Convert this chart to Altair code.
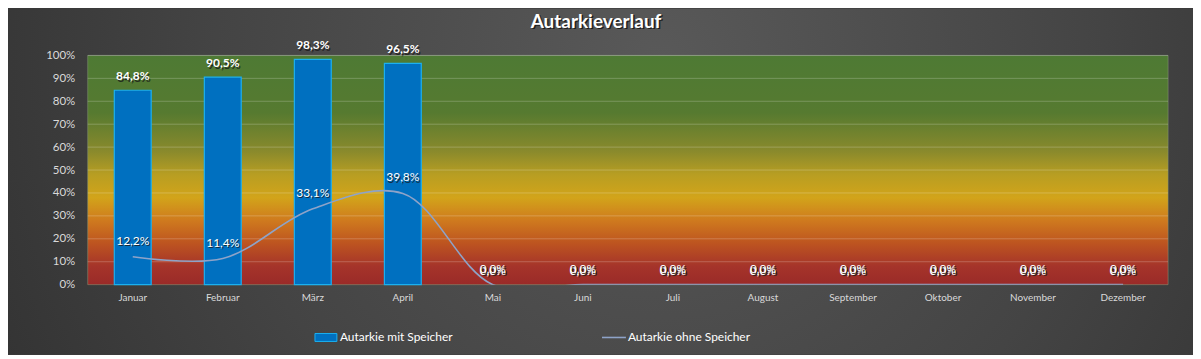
import altair as alt
import pandas as pd

months = ["Januar", "Februar", "März", "April", "Mai", "Juni", "Juli",
          "August", "September", "Oktober", "November", "Dezember"]
mit_speicher = [84.8, 90.5, 98.3, 96.5, 0.0, 0.0, 0.0, 0.0, 0.0, 0.0, 0.0, 0.0]
ohne_speicher = [12.2, 11.4, 33.1, 39.8, 0.0, 0.0, 0.0, 0.0, 0.0, 0.0, 0.0, 0.0]
series_names = ["Autarkie mit Speicher", "Autarkie ohne Speicher"]
title_text = "Autarkieverlauf"
grid_ticks = [0.1, 0.2, 0.3, 0.4, 0.5, 0.6, 0.7, 0.8, 0.9, 1.0]
y_ticks = [0.0, 0.1, 0.2, 0.3, 0.4, 0.5, 0.6, 0.7, 0.8, 0.9, 1.0]

W, H = 1084, 230
PAD = {"left": 80, "top": 47, "right": 25, "bottom": 70}
FONT = "Lato"


def fmt(v):
    return f"{v:.1f}".replace(".", ",") + "%"


df = pd.DataFrame({
    "Monat": months,
    "mit": [v / 100 for v in mit_speicher],
    "ohne": [v / 100 for v in ohne_speicher],
    "mit_lbl": [fmt(v) for v in mit_speicher],
    "ohne_lbl": [fmt(v) for v in ohne_speicher],
})
one = pd.DataFrame({"k": [0]})

x_axis = alt.Axis(labelAngle=0, labelColor="#d9d9d9", labelFontSize=10,
                  labelFont=FONT, labelPadding=8, domain=False, ticks=False,
                  grid=False, zindex=1, labelOverlap=False, title=None)
y_axis = alt.Axis(format="%", values=y_ticks,
                  labelColor="#d9d9d9", labelFontSize=11.5, labelFont=FONT,
                  labelPadding=13, domain=False, ticks=False, grid=False,
                  zindex=1, labelOverlap=False, title=None)
x_scale = alt.Scale(paddingInner=0.59, paddingOuter=0.295)
y_scale = alt.Scale(domain=[0, 1], nice=False)


def X():
    return alt.X("Monat:N", sort=months, scale=x_scale, axis=x_axis)


def Y(field):
    return alt.Y(f"{field}:Q", scale=y_scale, axis=y_axis)


bg = alt.Chart(one).mark_rect(
    fill=alt.RadialGradient(
        gradient="radial",
        stops=[alt.GradientStop(color="#595959", offset=0),
               alt.GradientStop(color="#444444", offset=0.5),
               alt.GradientStop(color="#2a2a2a", offset=1)],
        x1=0.55, y1=0.4, r1=0, x2=0.55, y2=0.4, r2=0.75),
).encode(x=alt.value(-PAD["left"]), x2=alt.value(W + PAD["right"]),
         y=alt.value(-PAD["top"]), y2=alt.value(H + PAD["bottom"]))

plot_bg = alt.Chart(one).mark_rect(
    fill=alt.LinearGradient(
        gradient="linear",
        stops=[alt.GradientStop(color="#4e7a34", offset=0.0),
               alt.GradientStop(color="#567a30", offset=0.25),
               alt.GradientStop(color="#8a8a2c", offset=0.42),
               alt.GradientStop(color="#b89e22", offset=0.52),
               alt.GradientStop(color="#d2a41a", offset=0.62),
               alt.GradientStop(color="#cf7a1e", offset=0.72),
               alt.GradientStop(color="#bd5420", offset=0.82),
               alt.GradientStop(color="#a5342a", offset=0.92),
               alt.GradientStop(color="#9a2a28", offset=1.0)],
        x1=0, y1=0, x2=0, y2=1),
    stroke="#8a9a7a", strokeWidth=1, strokeOpacity=0.5,
).encode(x=alt.value(0), x2=alt.value(W), y=alt.value(0), y2=alt.value(H))

grid = alt.Chart(pd.DataFrame({"t": grid_ticks})).mark_rule(
    color="#ffffff", opacity=0.22, strokeWidth=1
).encode(y=Y("t"))

bars = alt.Chart(df).mark_bar(
    color="#0070c0", stroke="#1ab0f0", strokeWidth=1.2, size=37
).encode(
    x=X(),
    y=Y("mit"),
    strokeOpacity=alt.condition(alt.datum.mit > 0, alt.value(1), alt.value(0)),
)

line = alt.Chart(df).mark_line(
    color="#8ea3c8", strokeWidth=1.6, interpolate="catmull-rom", clip=True
).encode(x=X(), y=Y("ohne"))


def labels(field, lbl, dy, weight):
    base = alt.Chart(df).encode(x=X(), y=Y(field), text=f"{lbl}:N")
    shadow = base.mark_text(color="#1a1a1a", opacity=0.8, fontSize=12, font=FONT,
                            fontWeight=weight, dy=dy + 1.3, dx=1.3)
    front = base.mark_text(color="#ffffff", fontSize=12, font=FONT,
                           fontWeight=weight, dy=dy)
    return shadow + front


bar_labels = labels("mit", "mit_lbl", -14, "bold")
line_labels = labels("ohne", "ohne_lbl", -16, "normal")

tdf = pd.DataFrame({"t": [title_text]})
title_shadow = alt.Chart(tdf).mark_text(
    color="#111111", fontSize=19, font=FONT, fontWeight="bold", opacity=0.8
).encode(x=alt.value(511.5), y=alt.value(-32.5), text="t:N")
title = alt.Chart(tdf).mark_text(
    color="#ffffff", fontSize=19, font=FONT, fontWeight="bold"
).encode(x=alt.value(510), y=alt.value(-34), text="t:N")

leg_bar = alt.Chart(one).mark_rect(color="#0070c0", stroke="#1ab0f0", strokeWidth=1).encode(
    x=alt.value(228), x2=alt.value(250), y=alt.value(279), y2=alt.value(287))
leg_bar_txt = alt.Chart(pd.DataFrame({"t": [series_names[0]]})).mark_text(
    color="#ffffff", fontSize=12, font=FONT, align="left", baseline="middle"
).encode(x=alt.value(253), y=alt.value(283), text="t:N")
leg_line = alt.Chart(one).mark_rule(color="#8ea3c8", strokeWidth=1.6).encode(
    x=alt.value(516), x2=alt.value(540), y=alt.value(283))
leg_line_txt = alt.Chart(pd.DataFrame({"t": [series_names[1]]})).mark_text(
    color="#ffffff", fontSize=12, font=FONT, align="left", baseline="middle"
).encode(x=alt.value(542), y=alt.value(283), text="t:N")

chart = alt.layer(
    bg, plot_bg, grid, bars, line, bar_labels, line_labels,
    title_shadow, title, leg_bar, leg_bar_txt, leg_line, leg_line_txt
).properties(
    width=W, height=H,
    autosize=alt.AutoSizeParams(type="none"),
    padding=PAD,
    background="#3a3a3a",
).configure_view(stroke=None).configure_axis(labelOverlap=False)

chart.save("out.html", embed_options={"renderer": "svg", "actions": False})
